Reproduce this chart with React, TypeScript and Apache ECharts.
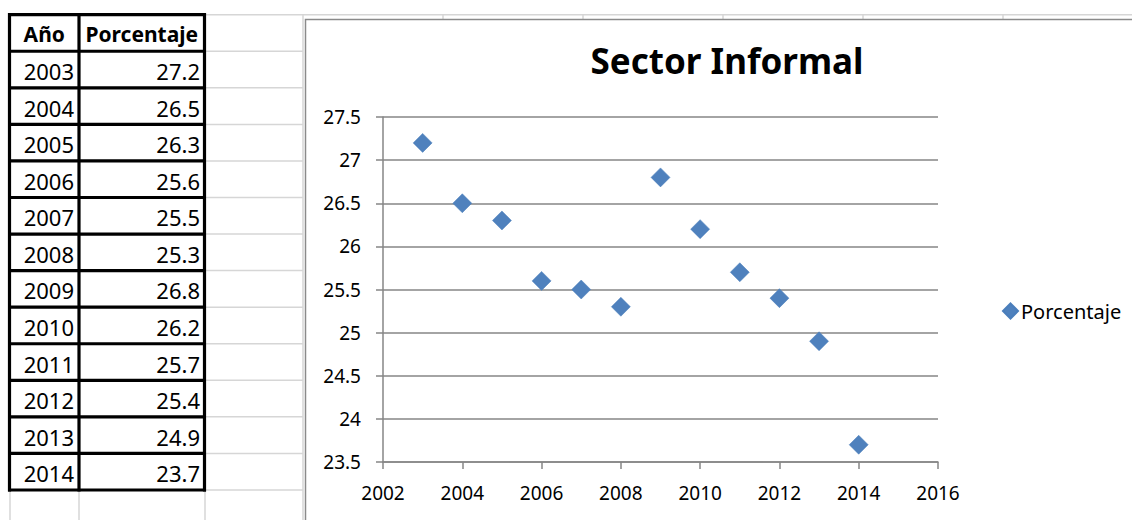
import React, { useEffect, useRef } from "react";
import * as echarts from "echarts";

// ---- data ----
const years: number[] = [2003, 2004, 2005, 2006, 2007, 2008, 2009, 2010, 2011, 2012, 2013, 2014];
const values: number[] = [27.2, 26.5, 26.3, 25.6, 25.5, 25.3, 26.8, 26.2, 25.7, 25.4, 24.9, 23.7];
const tableHeaders: string[] = ["Año", "Porcentaje"];
const seriesName = "Porcentaje";
const chartTitle = "Sector Informal";

const FONT = '"Noto Sans", sans-serif';

function buildGraphics(): any[] {
  const els: any[] = [];
  const rowTop = 14.7;
  const rowH = 36.56;
  const nRows = years.length + 1;
  const tableBottom = rowTop + nRows * rowH;
  const colX = [9.5, 79, 204.5];
  const light = { stroke: "#d6d6d6", lineWidth: 1.5 };

  // spreadsheet light gridlines
  for (let k = 0; k <= nRows; k++) {
    const y = rowTop + k * rowH;
    els.push({ type: "line", silent: true, shape: { x1: 205, y1: y, x2: k === 0 ? 1132 : 303, y2: y }, style: light });
  }
  els.push({ type: "line", silent: true, shape: { x1: 303, y1: rowTop, x2: 303, y2: 520 }, style: light });
  [10, 79, 205].forEach((x) =>
    els.push({ type: "line", silent: true, shape: { x1: x, y1: tableBottom, x2: x, y2: 520 }, style: light })
  );
  [443, 583, 723, 863, 1003].forEach((x) =>
    els.push({ type: "line", silent: true, shape: { x1: x, y1: rowTop, x2: x, y2: 19 }, style: light })
  );

  // chart area border
  els.push({ type: "polyline", silent: true, shape: { points: [[305.5, 520], [305.5, 19.5], [1132, 19.5]] }, style: { stroke: "#8a8a8a", lineWidth: 1.5, fill: "none" } });

  // table thick borders
  const dark = { stroke: "#000", lineWidth: 3.2 };
  for (let k = 0; k <= nRows; k++) {
    const y = rowTop + k * rowH;
    els.push({ type: "line", silent: true, shape: { x1: 8, y1: y, x2: 206, y2: y }, style: dark });
  }
  colX.forEach((x) =>
    els.push({ type: "line", silent: true, shape: { x1: x, y1: rowTop - 1.6, x2: x, y2: tableBottom + 1.6 }, style: dark })
  );

  // header texts
  const headerCenters = [(colX[0] + colX[1]) / 2, (colX[1] + colX[2]) / 2];
  tableHeaders.forEach((h, i) =>
    els.push({
      type: "text",
      silent: true,
      style: {
        text: h, x: headerCenters[i], y: rowTop + rowH / 2 + 1,
        font: `bold 21px ${FONT}`, fill: "#000",
        textAlign: "center", textVerticalAlign: "middle", align: "center", verticalAlign: "middle",
      },
    })
  );
  // data rows
  years.forEach((yr, i) => {
    const cy = rowTop + (i + 1) * rowH + rowH / 2 + 1.5;
    els.push({
      type: "text", silent: true,
      style: { text: String(yr), x: 74, y: cy, font: `22px ${FONT}`, fill: "#000", textAlign: "right", textVerticalAlign: "middle", align: "right", verticalAlign: "middle" },
    });
    els.push({
      type: "text", silent: true,
      style: { text: values[i].toFixed(1), x: 200, y: cy, font: `22px ${FONT}`, fill: "#000", textAlign: "right", textVerticalAlign: "middle", align: "right", verticalAlign: "middle" },
    });
  });
  return els;
}

export default function App() {
  const ref = useRef<HTMLDivElement>(null);
  useEffect(() => {
    if (!ref.current) return;
    const chart = echarts.init(ref.current, null, { renderer: "svg" });
    const axisColor = "#868686";
    const option: any = {
      animation: false,
      backgroundColor: "#fff",
      title: {
        text: chartTitle,
        left: 722,
        top: 38,
        textAlign: "center",
        textStyle: { fontFamily: FONT, fontWeight: "bold", fontSize: 35, color: "#000" },
      },
      legend: {
        left: 997,
        top: 296,
        icon: "diamond",
        itemWidth: 15,
        itemHeight: 15,
        itemGap: 5,
        data: [seriesName],
        textStyle: { fontFamily: FONT, fontSize: 20, color: "#000", padding: [0, 0, 0, -2] },
      },
      grid: { left: 383, top: 117, right: 194, bottom: 58, containLabel: false },
      xAxis: {
        type: "value",
        min: 2002,
        max: 2016,
        interval: 2,
        axisLine: { show: true, onZero: false, lineStyle: { color: axisColor, width: 1.5 } },
        axisTick: { show: true, length: 7, lineStyle: { color: axisColor, width: 1.5 } },
        splitLine: { show: false },
        axisLabel: { color: "#000", fontFamily: FONT, fontSize: 19, margin: 21, formatter: (v: number) => String(v) },
      },
      yAxis: {
        type: "value",
        min: 23.5,
        max: 27.5,
        interval: 0.5,
        axisLine: { show: true, lineStyle: { color: axisColor, width: 1.5 } },
        axisTick: { show: true, length: 7, lineStyle: { color: axisColor, width: 1.5 } },
        splitLine: { show: true, lineStyle: { color: axisColor, width: 1.5 } },
        axisLabel: { color: "#000", fontFamily: FONT, fontSize: 19, margin: 22 },
      },
      series: [
        {
          name: seriesName,
          type: "scatter",
          symbol: "diamond",
          symbolSize: 19,
          itemStyle: { color: "#4F81BD", opacity: 1, borderColor: "#4A7EBB", borderWidth: 0.5 },
          data: years.map((y, i) => [y, values[i]]),
        },
      ],
      graphic: { elements: buildGraphics() },
    };
    chart.setOption(option);
    return () => chart.dispose();
  }, []);
  return (
    <div
      ref={ref}
      style={{ position: "fixed", left: 0, top: 0, width: 1132, height: 520, background: "#fff" }}
    />
  );
}
